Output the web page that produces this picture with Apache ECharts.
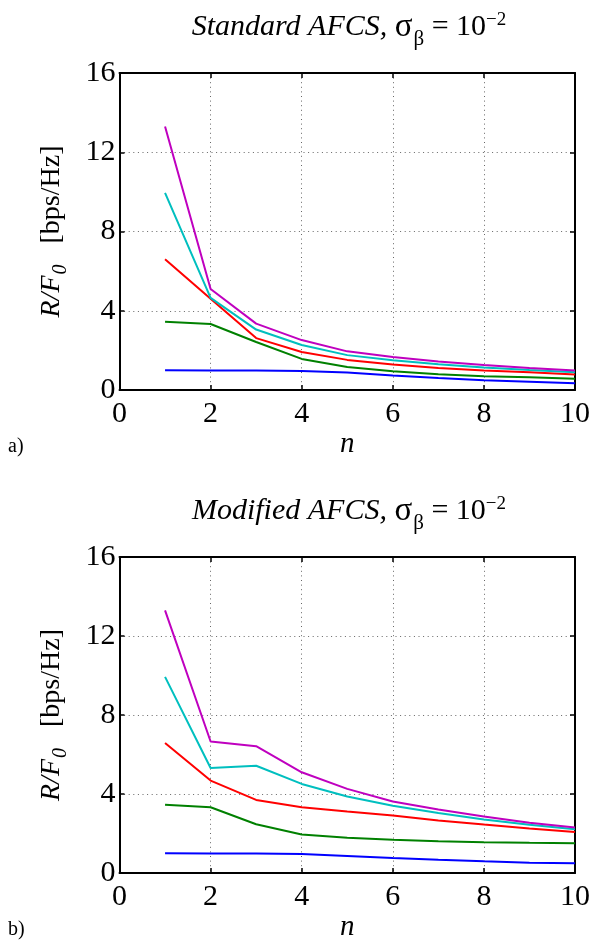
<!DOCTYPE html>
<html>
<head>
<meta charset="utf-8">
<script src="https://cdn.jsdelivr.net/npm/echarts@6/dist/echarts.min.js"></script>
<style>html,body{margin:0;padding:0;background:#fff;}#c{width:593px;height:943px;}</style>
</head>
<body>
<div id="c"></div>
<script>
const nValues = [1, 2, 3, 4, 5, 6, 7, 8, 9, 10];
const xTicks = [0, 2, 4, 6, 8, 10];
const yTicks = [0, 4, 8, 12, 16];

// (a) Standard AFCS
const stdPurple = [13.3, 5.1, 3.35, 2.52, 1.95, 1.66, 1.44, 1.26, 1.11, 0.98];
const stdCyan   = [9.95, 4.65, 3.05, 2.27, 1.76, 1.5, 1.3, 1.13, 1.01, 0.9];
const stdRed    = [6.6, 4.6, 2.62, 1.92, 1.52, 1.29, 1.11, 0.98, 0.89, 0.78];
const stdGreen  = [3.45, 3.33, 2.42, 1.57, 1.16, 0.95, 0.8, 0.7, 0.64, 0.57];
const stdBlue   = [1.0, 0.99, 0.98, 0.96, 0.88, 0.73, 0.6, 0.49, 0.42, 0.34];

// (b) Modified AFCS
const modPurple = [13.3, 6.66, 6.42, 5.1, 4.26, 3.62, 3.21, 2.86, 2.54, 2.3];
const modCyan   = [9.93, 5.32, 5.43, 4.51, 3.87, 3.41, 3.04, 2.71, 2.44, 2.22];
const modRed    = [6.58, 4.68, 3.7, 3.33, 3.11, 2.91, 2.66, 2.45, 2.25, 2.08];
const modGreen  = [3.45, 3.33, 2.47, 1.95, 1.78, 1.68, 1.61, 1.56, 1.53, 1.51];
const modBlue   = [1.0, 0.99, 0.99, 0.96, 0.86, 0.76, 0.67, 0.59, 0.52, 0.49];

const colors = { blue: '#0000ff', green: '#008000', red: '#ff0000', cyan: '#00bfbf', purple: '#bf00bf' };
const FONT = 'Liberation Serif';

const chart = echarts.init(document.getElementById('c'), null, { renderer: 'canvas' });

function pairs(vals) { return nValues.map((n, i) => [n, vals[i]]); }

function lineSeries(vals, color, gi) {
  return {
    type: 'line', xAxisIndex: gi * 2, yAxisIndex: gi * 2, data: pairs(vals),
    symbol: 'none', smooth: false, lineStyle: { color: color, width: 2 }, silent: true
  };
}

const axisLine = { show: true, onZero: false, lineStyle: { color: '#000', width: 2 } };
const axisTick = { show: true, inside: true, length: 5, lineStyle: { color: '#000', width: 1.5 } };
const split = { show: true, lineStyle: { color: '#666', width: 1, type: [1, 3.6] } };
const tickLabel = { color: '#000', fontSize: 30, fontFamily: FONT };

const grids = [
  { left: 119.5, right: 13.5, top: 73, height: 317 },
  { left: 119.5, right: 13.5, top: 557, height: 317 }
];

const xAxes = [], yAxes = [];
[0, 1].forEach(gi => {
  xAxes.push({
    gridIndex: gi, type: 'value', position: 'bottom', min: xTicks[0], max: xTicks[xTicks.length - 1], interval: xTicks[1] - xTicks[0],
    axisLine, axisTick, splitLine: split,
    axisLabel: Object.assign({ margin: 9 }, tickLabel),
    name: 'n', nameLocation: 'middle', nameGap: 40,
    nameTextStyle: { color: '#000', fontSize: 29, fontFamily: FONT, fontStyle: 'italic' }
  });
  xAxes.push({
    gridIndex: gi, type: 'value', position: 'top', min: xTicks[0], max: xTicks[xTicks.length - 1], interval: xTicks[1] - xTicks[0],
    axisLine, axisTick, splitLine: { show: false }, axisLabel: { show: false }
  });
  yAxes.push({
    gridIndex: gi, type: 'value', position: 'left', min: yTicks[0], max: yTicks[yTicks.length - 1], interval: yTicks[1] - yTicks[0],
    axisLine, axisTick, splitLine: split,
    axisLabel: Object.assign({ margin: 4 }, tickLabel),
    name: '{it|R/F}{sub|0}{n|   [bps/Hz]}', nameLocation: 'middle', nameRotate: 90, nameGap: 49,
    nameTextStyle: {
      color: '#000', fontSize: 28, fontFamily: FONT,
      rich: {
        it: { fontSize: 28, fontFamily: FONT, fontStyle: 'italic', color: '#000' },
        sub: { fontSize: 20, fontFamily: FONT, fontStyle: 'italic', color: '#000', padding: [18, 0, 0, 1] },
        n: { fontSize: 28, fontFamily: FONT, color: '#000' }
      }
    }
  });
  yAxes.push({
    gridIndex: gi, type: 'value', position: 'right', min: yTicks[0], max: yTicks[yTicks.length - 1], interval: yTicks[1] - yTicks[0],
    axisLine, axisTick, splitLine: { show: false }, axisLabel: { show: false }
  });
});

const titleRich = {
  it: { fontSize: 30, fontFamily: FONT, fontStyle: 'italic', fill: '#000' },
  s: { fontSize: 33, fontFamily: FONT, fill: '#000' },
  sub: { fontSize: 21, fontFamily: FONT, fill: '#000', padding: [24, 0, 0, 1] },
  n: { fontSize: 30, fontFamily: FONT, fill: '#000' },
  sup: { fontSize: 19, fontFamily: FONT, fill: '#000', padding: [0, 0, 14, 0] }
};

function titleText(name, cx, cy) {
  return {
    type: 'text', x: cx, y: cy, silent: true,
    style: {
      text: '{it|' + name + ' AFCS,} {s|σ}{sub|β}{n| = 10}{sup|−2}',
      rich: titleRich, align: 'center', verticalAlign: 'middle', fill: '#000',
      fontSize: 30, fontFamily: FONT
    }
  };
}

chart.setOption({
  animation: false,
  backgroundColor: '#fff',
  grid: grids,
  xAxis: xAxes,
  yAxis: yAxes,
  graphic: [
    titleText('Standard', 349, 27),
    titleText('Modified', 349, 511),
    { type: 'text', x: 8, y: 447, style: { text: 'a)', fontSize: 20, fontFamily: FONT, fill: '#000', verticalAlign: 'middle' } },
    { type: 'text', x: 8, y: 930, style: { text: 'b)', fontSize: 20, fontFamily: FONT, fill: '#000', verticalAlign: 'middle' } }
  ],
  series: [
    lineSeries(stdBlue, colors.blue, 0),
    lineSeries(stdGreen, colors.green, 0),
    lineSeries(stdRed, colors.red, 0),
    lineSeries(stdCyan, colors.cyan, 0),
    lineSeries(stdPurple, colors.purple, 0),
    lineSeries(modBlue, colors.blue, 1),
    lineSeries(modGreen, colors.green, 1),
    lineSeries(modRed, colors.red, 1),
    lineSeries(modCyan, colors.cyan, 1),
    lineSeries(modPurple, colors.purple, 1)
  ]
});
</script>
</body>
</html>
